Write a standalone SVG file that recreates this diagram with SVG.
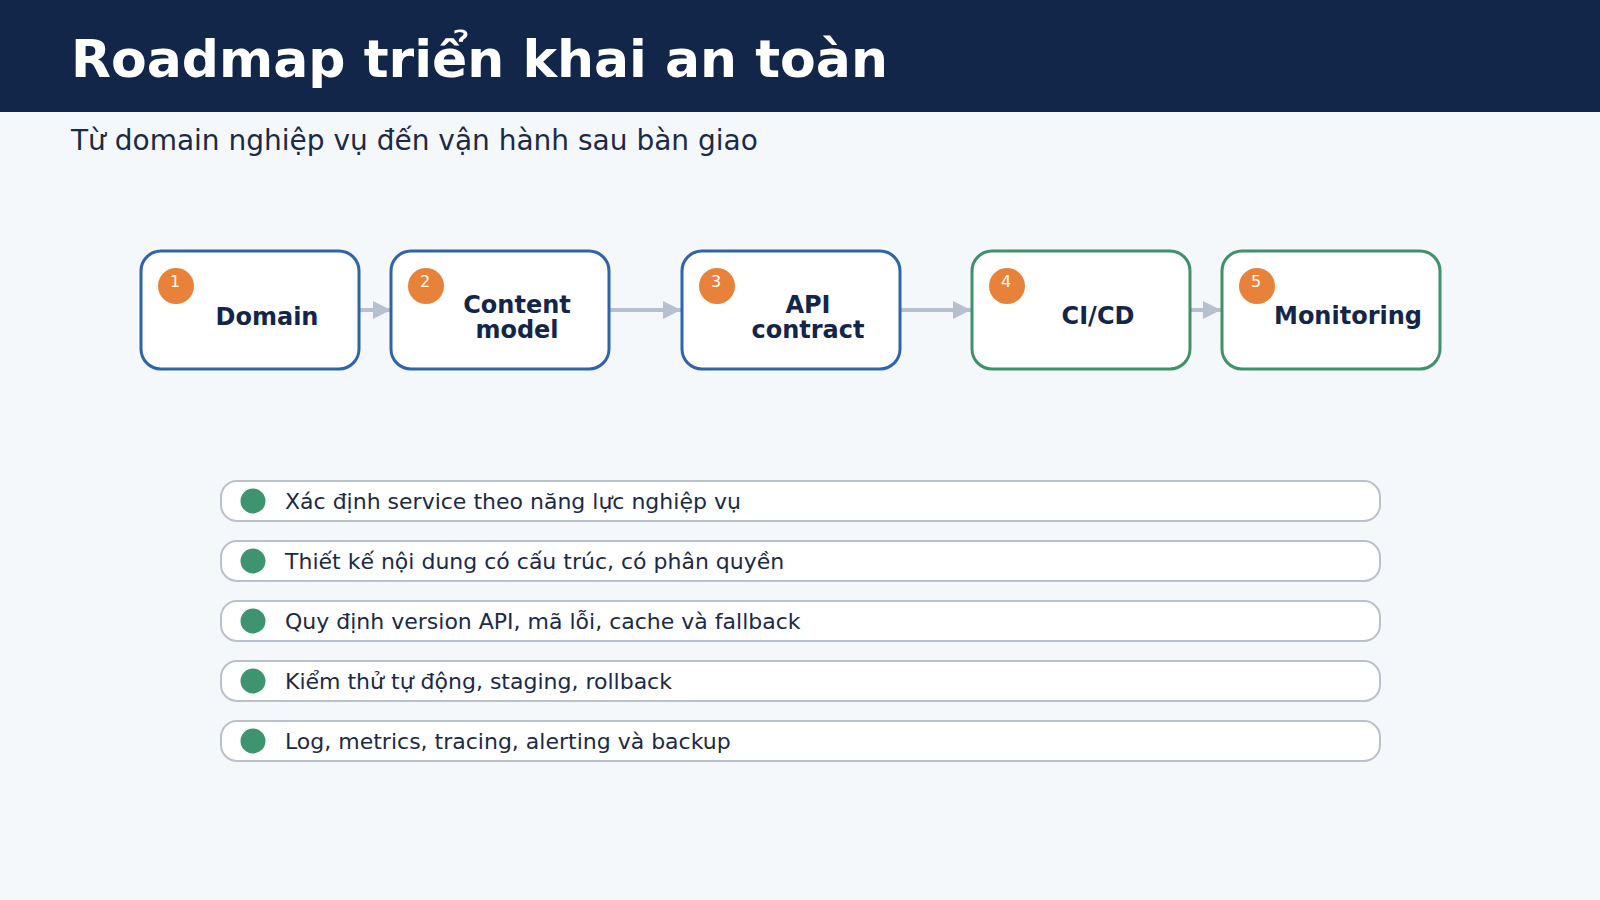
<svg xmlns="http://www.w3.org/2000/svg" width="1600" height="900" viewBox="0 0 1600 900">
  <defs>
    <marker id="arrow" markerUnits="userSpaceOnUse" markerWidth="18" markerHeight="18" refX="18" refY="9" orient="auto">
      <path d="M0,0 L18,9 L0,18 Z" fill="#b7c0cf"/>
    </marker>
    <style>
      .title { font-family: "DejaVu Sans", sans-serif; font-weight: bold; font-size: 52px; fill: #ffffff; }
      .subtitle { font-family: "DejaVu Sans", sans-serif; font-size: 28px; fill: #1b2a47; }
      .node-box { fill: #ffffff; stroke-width: 3; }
      .blue { stroke: #2f64a8; }
      .green { stroke: #3f9169; }
      .badge { fill: #e8823a; }
      .badge-num { font-family: "DejaVu Sans", sans-serif; font-size: 16px; fill: #ffffff; text-anchor: middle; }
      .node-label { font-family: "DejaVu Sans", sans-serif; font-weight: bold; font-size: 24px; fill: #13264a; text-anchor: middle; }
      .conn { stroke: #b7c0cf; stroke-width: 4; fill: none; }
      .item-box { fill: #ffffff; stroke: #b9c1cd; stroke-width: 2; }
      .dot { fill: #3f9470; }
      .item-text { font-family: "DejaVu Sans", sans-serif; font-size: 22px; fill: #1b2a47; }
    </style>
  </defs>

  <rect x="0" y="0" width="1600" height="900" fill="#f4f8fb"/>
  <rect x="0" y="0" width="1600" height="112" fill="#12264a"/>
  <text class="title" x="71" y="77">Roadmap triển khai an toàn</text>
  <text class="subtitle" x="71" y="150">Từ domain nghiệp vụ đến vận hành sau bàn giao</text>

  <g id="connectors">
    <line class="conn" x1="360" y1="310" x2="391" y2="310" marker-end="url(#arrow)"/>
    <line class="conn" x1="610" y1="310" x2="681" y2="310" marker-end="url(#arrow)"/>
    <line class="conn" x1="900" y1="310" x2="971" y2="310" marker-end="url(#arrow)"/>
    <line class="conn" x1="1190" y1="310" x2="1221" y2="310" marker-end="url(#arrow)"/>
  </g>

  <g id="node-domain">
    <rect class="node-box blue" x="141" y="251" width="218" height="118" rx="20"/>
    <circle class="badge" cx="176" cy="286" r="18"/>
    <text class="badge-num" x="175" y="287">1</text>
    <text class="node-label" x="267" y="325">Domain</text>
  </g>
  <g id="node-content-model">
    <rect class="node-box blue" x="391" y="251" width="218" height="118" rx="20"/>
    <circle class="badge" cx="426" cy="286" r="18"/>
    <text class="badge-num" x="425" y="287">2</text>
    <text class="node-label" x="517" y="313">Content</text>
    <text class="node-label" x="517" y="338">model</text>
  </g>
  <g id="node-api-contract">
    <rect class="node-box blue" x="682" y="251" width="218" height="118" rx="20"/>
    <circle class="badge" cx="717" cy="286" r="18"/>
    <text class="badge-num" x="716" y="287">3</text>
    <text class="node-label" x="808" y="313">API</text>
    <text class="node-label" x="808" y="338">contract</text>
  </g>
  <g id="node-cicd">
    <rect class="node-box green" x="972" y="251" width="218" height="118" rx="20"/>
    <circle class="badge" cx="1007" cy="286" r="18"/>
    <text class="badge-num" x="1006" y="287">4</text>
    <text class="node-label" x="1098" y="324">CI/CD</text>
  </g>
  <g id="node-monitoring">
    <rect class="node-box green" x="1222" y="251" width="218" height="118" rx="20"/>
    <circle class="badge" cx="1257" cy="286" r="18"/>
    <text class="badge-num" x="1256" y="287">5</text>
    <text class="node-label" x="1348" y="324">Monitoring</text>
  </g>

  <g id="item-1">
    <rect class="item-box" x="221" y="481" width="1159" height="40" rx="16"/>
    <circle class="dot" cx="253" cy="501" r="12.5"/>
    <text class="item-text" x="285" y="509">Xác định service theo năng lực nghiệp vụ</text>
  </g>
  <g id="item-2">
    <rect class="item-box" x="221" y="541" width="1159" height="40" rx="16"/>
    <circle class="dot" cx="253" cy="561" r="12.5"/>
    <text class="item-text" x="285" y="569">Thiết kế nội dung có cấu trúc, có phân quyền</text>
  </g>
  <g id="item-3">
    <rect class="item-box" x="221" y="601" width="1159" height="40" rx="16"/>
    <circle class="dot" cx="253" cy="621" r="12.5"/>
    <text class="item-text" x="285" y="629">Quy định version API, mã lỗi, cache và fallback</text>
  </g>
  <g id="item-4">
    <rect class="item-box" x="221" y="661" width="1159" height="40" rx="16"/>
    <circle class="dot" cx="253" cy="681" r="12.5"/>
    <text class="item-text" x="285" y="689">Kiểm thử tự động, staging, rollback</text>
  </g>
  <g id="item-5">
    <rect class="item-box" x="221" y="721" width="1159" height="40" rx="16"/>
    <circle class="dot" cx="253" cy="741" r="12.5"/>
    <text class="item-text" x="285" y="749">Log, metrics, tracing, alerting và backup</text>
  </g>
</svg>
